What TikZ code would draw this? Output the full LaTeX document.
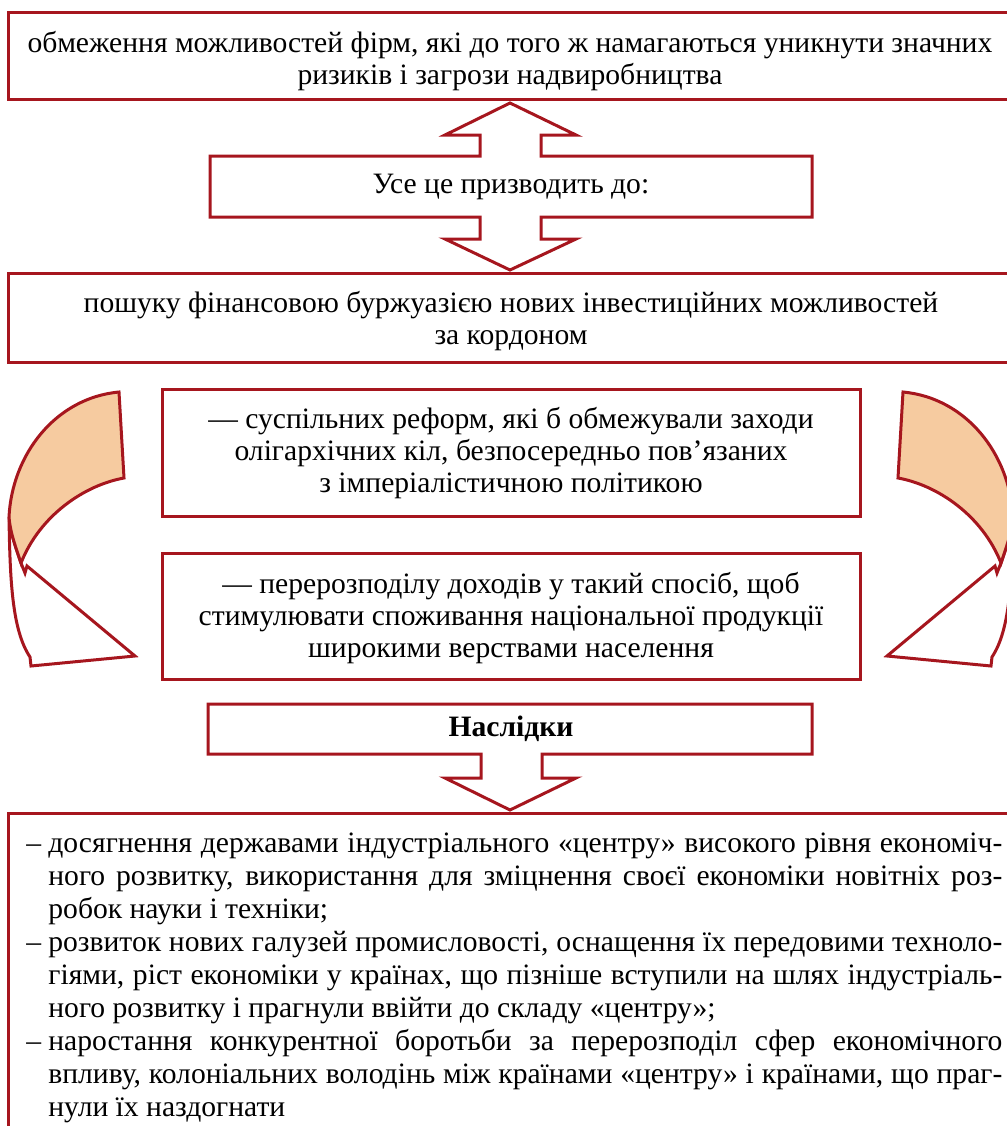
\documentclass[tikz,border=0pt]{standalone}
\usepackage{fontspec}
\setmainfont{Liberation Serif}
\usetikzlibrary{positioning}
\definecolor{framered}{HTML}{A6161E}
\definecolor{bandfill}{HTML}{F6CBA0}
\newcommand{\jline}[1]{\makebox[477pt][s]{#1}}
\newcommand{\bentarrow}{%
  \draw[frame,fill=white] (9,517) .. controls (10,580) and (12,630) .. (30,657) -- (31,666) -- (135,656) -- (27,566) -- (25,573) -- (21,563) .. controls (16,548) and (10,532) .. (9,517) -- cycle;
  \draw[band] (119,392) -- (124,478) .. controls (85,485) and (40,515) .. (21,563) .. controls (16,548) and (10,532) .. (9,517) .. controls (12,455) and (55,398) .. (119,392) -- cycle;
}

\begin{document}
\begin{tikzpicture}[x=0.5pt,y=-0.5pt,every node/.style={font=\fontsize{14.8}{16}\selectfont},
  frame/.style={draw=framered,line width=1.5pt},
  band/.style={frame,fill=bandfill}]
\useasboundingbox (0,0) rectangle (1007,1126);
\clip (0,0) rectangle (1007,1126);
% boxes
\draw[frame] (8,12) rectangle (1014,99);
\draw[frame] (8,273) rectangle (1014,362);
\draw[frame] (162,389) rectangle (860,516);
\draw[frame] (162,553) rectangle (860,679);
\draw[frame] (8,813) rectangle (1014,1140);
% block arrows
\draw[frame] (510,103) -- (576,135) -- (541,135) -- (541,156) -- (812,156) -- (812,217) -- (541,217) -- (541,239) -- (576,239) -- (510,270) -- (445,239) -- (480,239) -- (480,217) -- (210,217) -- (210,156) -- (480,156) -- (480,135) -- (445,135) -- cycle;
\draw[frame] (208,704) -- (812,704) -- (812,754) -- (542,754) -- (542,778) -- (576,778) -- (510,810) -- (445,778) -- (481,778) -- (481,754) -- (208,754) -- cycle;
\bentarrow
\begin{scope}[shift={(1022,0)},xscale=-1]
\bentarrow
\end{scope}
% texts
\node[align=center] (limits) at (510,61) {обмеження можливостей фірм, які до того ж намагаються уникнути значних\\ризиків і загрози надвиробництва};
\node (leads) at (511,187) {Усе це призводить до:};
\node[align=center] (search) at (511,321) {пошуку фінансовою буржуазією нових інвестиційних можливостей\\за кордоном};
\node[align=center] (reforms) at (511,453) {— суспільних реформ, які б обмежували заходи\\олігархічних кіл, безпосередньо пов’язаних\\з імперіалістичною політикою};
\node[align=center] (redistribution) at (511,618) {— перерозподілу доходів у такий спосіб, щоб\\стимулювати споживання національної продукції\\широкими верствами населення};
\node[font=\fontsize{14.8}{16}\selectfont\bfseries] (consequences) at (511,729) {Наслідки};
\node[anchor=north west,align=left,inner sep=0pt,font=\fontsize{14.8}{16.5}\selectfont] (results) at (26,832) {%
\makebox[11pt][l]{–}\jline{досягнення державами індустріального «центру» високого рівня економіч-}\\
\hspace*{11pt}\jline{ного розвитку, використання для зміцнення своєї економіки новітніх роз-}\\
\hspace*{11pt}робок науки і техніки;\\
\makebox[11pt][l]{–}\jline{розвиток нових галузей промисловості, оснащення їх передовими техноло-}\\
\hspace*{11pt}\jline{гіями, ріст економіки у країнах, що пізніше вступили на шлях індустріаль-}\\
\hspace*{11pt}ного розвитку і прагнули ввійти до складу «центру»;\\
\makebox[11pt][l]{–}\jline{наростання конкурентної боротьби за перерозподіл сфер економічного}\\
\hspace*{11pt}\jline{впливу, колоніальних володінь між країнами «центру» і країнами, що праг-}\\
\hspace*{11pt}нули їх наздогнати};
\end{tikzpicture}
\end{document}
